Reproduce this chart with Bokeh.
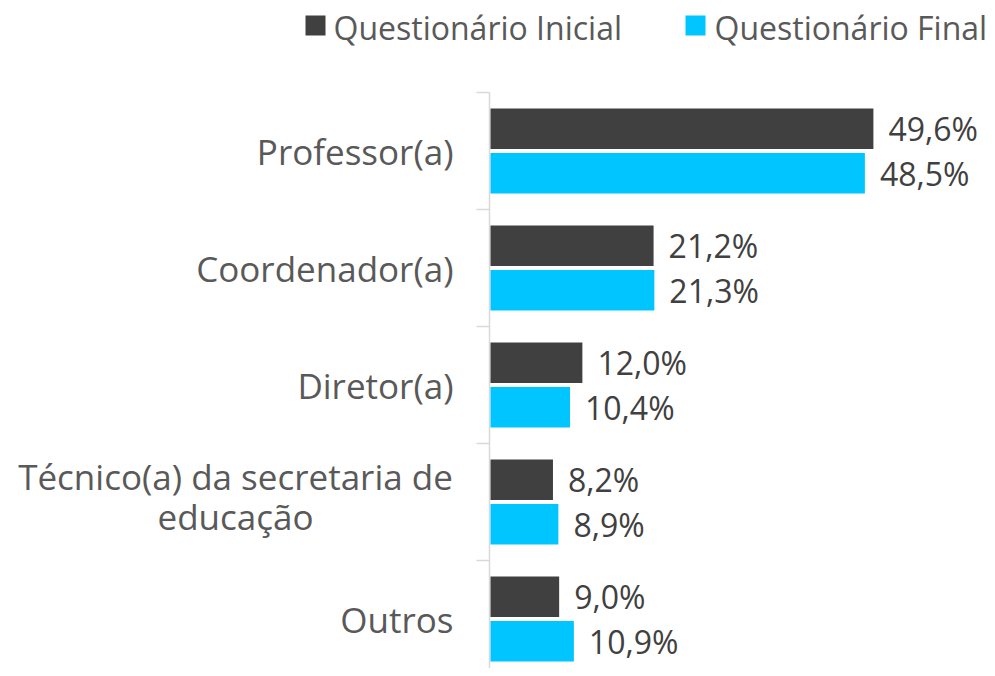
from bokeh.plotting import figure
from bokeh.models import Range1d, ColumnDataSource
from bokeh.core.properties import value
from bokeh.embed import file_html
from bokeh.resources import INLINE

# ---------------- data ----------------
categories = ["Professor(a)", "Coordenador(a)", "Diretor(a)",
              "Técnico(a) da secretaria de\neducação", "Outros"]
inicial = [49.6, 21.2, 12.0, 8.2, 9.0]
final = [48.5, 21.3, 10.4, 8.9, 10.9]
series_names = ["Questionário Inicial", "Questionário Final"]
series_colors = ["#404040", "#00C5FF"]

# ---------------- layout constants (reference pixels) ----------------
W, H = 987, 668
ORIGIN = 0
AXIS_X = 489.0          # x pixel of the value 0
PX_PER_UNIT = 7.74      # pixels per percentage point
TOP_Y = 92.0            # y pixel of the top category boundary
BAND = 117.0            # pixels per category band

def xv(px):
    return (px - AXIS_X) / PX_PER_UNIT

def yv(py):
    return (py - TOP_Y) / BAND

FONT = "Open Sans"

p = figure(width=W, height=H, output_backend="svg", toolbar_location=None,
           x_range=Range1d(xv(ORIGIN), xv(ORIGIN + W)),
           y_range=Range1d(yv(ORIGIN + H), yv(ORIGIN)),
           x_axis_location=None, y_axis_location=None,
           min_border=0, min_border_left=0, min_border_right=0,
           min_border_top=0, min_border_bottom=0)
p.xgrid.visible = False
p.ygrid.visible = False
p.outline_line_color = None
p.background_fill_color = "white"
p.border_fill_color = "white"

n = len(categories)
centers = [i + 0.5 for i in range(n)]
offset = 0.19
bar_h = 0.345

def fmt(v):
    return ("%.1f" % v).replace(".", ",") + "%"

# axis line and ticks (between categories)
p.segment(x0=[0], y0=[0], x1=[0], y1=[n], line_color="#D9D9D9", line_width=1.5)
tick_len = 13 / PX_PER_UNIT
p.segment(x0=[-tick_len] * (n + 1), x1=[0] * (n + 1),
          y0=list(range(n + 1)), y1=list(range(n + 1)),
          line_color="#D9D9D9", line_width=1.5)

# bars
for vals, off, col in [(inicial, -offset, series_colors[0]), (final, offset, series_colors[1])]:
    src = ColumnDataSource(dict(y=[c + off for c in centers], right=vals,
                                lab=[fmt(v) for v in vals]))
    p.hbar(y="y", left=0.13, right="right", height=bar_h,
           source=src, fill_color=col, line_color=None)
    p.text(x="right", y="y", text="lab", source=src, x_offset=15,
           text_align="left", text_baseline="middle",
           text_font=value(FONT), text_font_size="32px", text_color="#404040")

# category labels
single = [(c, y) for c, y in zip(categories, centers) if "\n" not in c]
multi = [(c, y) for c, y in zip(categories, centers) if "\n" in c]
p.text(x=[xv(453)] * len(single), y=[y for _, y in single], text=[c for c, _ in single],
       text_align="right", text_baseline="middle",
       text_font=value(FONT), text_font_size="35px", text_color="#595959")
p.text(x=[xv(235)] * len(multi), y=[y - 0.047 for _, y in multi], text=[c for c, _ in multi],
       text_align="center", text_baseline="middle", text_line_height=0.84,
       text_font=value(FONT), text_font_size="35px", text_color="#595959")

# legend
leg_sq_x = [315, 695]
leg_tx_x = [333, 714]
leg_y = 25
p.scatter(x=[xv(v) for v in leg_sq_x], y=[yv(leg_y)] * 2, marker="square", size=20,
          fill_color=series_colors, line_color=None)
p.text(x=[xv(v) for v in leg_tx_x], y=[yv(leg_y + 2)] * 2, text=series_names,
       text_align="left", text_baseline="middle",
       text_font=value(FONT), text_font_size="32px", text_color="#595959")

open("out.html", "w").write(file_html(p, INLINE))
